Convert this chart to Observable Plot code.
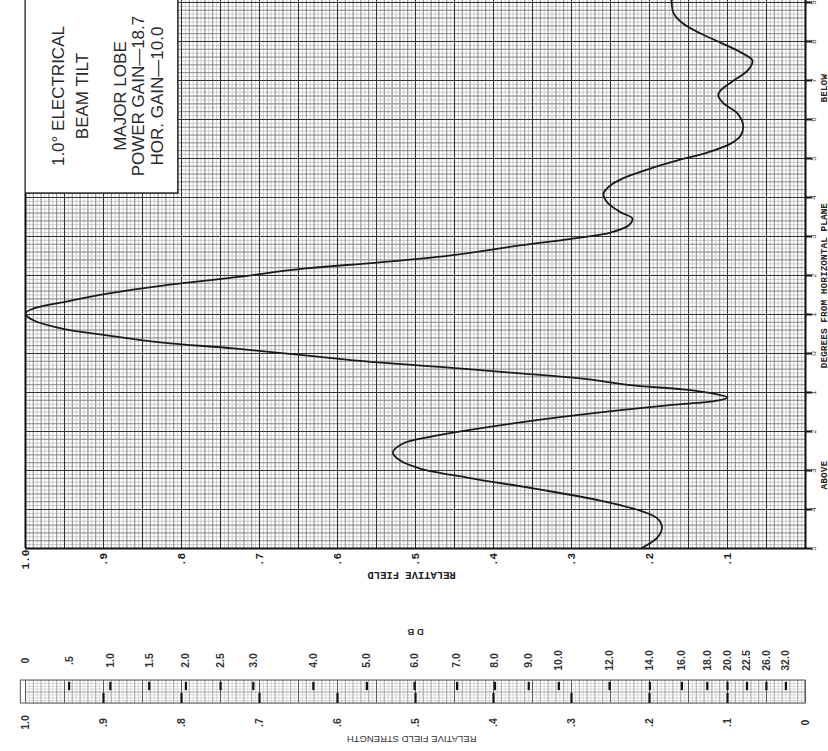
<!DOCTYPE html>
<html>
<head>
<meta charset="utf-8">
<script src="https://cdn.jsdelivr.net/npm/d3@7"></script>
<script src="https://cdn.jsdelivr.net/npm/@observablehq/plot@0.6"></script>
<style>
  html, body { margin: 0; padding: 0; background: #fff; }
  #chart svg { display: block; }
</style>
</head>
<body>
<div id="chart"></div>
<script>
// ---------- DATA ----------
// elevation angle in degrees (positive = below horizontal, negative = above)
const degBelow = [9.2, 8.72, 8.46, 8.21, 7.97, 7.72, 7.51, 7.26, 7.0, 6.74, 6.62, 6.41, 6.15, 5.85, 5.59, 5.38, 5.15, 4.95, 4.74, 4.49, 4.31, 4.10, 3.87, 3.62, 3.46, 3.28, 3.10, 2.97, 2.77, 2.51, 2.33, 2.18, 1.95, 1.74, 1.54, 1.31, 1.15, 1.03, 0.85, 0.64, 0.46, 0.28, 0.13, -0.05, -0.23, -0.36, -0.51, -0.64, -0.82, -0.92, -1.03, -1.13, -1.21, -1.33, -1.51, -1.72, -1.97, -2.15, -2.31, -2.54, -2.74, -2.95, -3.18, -3.46, -3.77, -4.03, -4.23, -4.46, -4.72, -4.97, -5.1];
// relative field at each angle
const relField = [0.172, 0.169, 0.157, 0.135, 0.109, 0.083, 0.068, 0.074, 0.092, 0.109, 0.112, 0.105, 0.087, 0.080, 0.083, 0.096, 0.126, 0.164, 0.199, 0.234, 0.250, 0.259, 0.254, 0.237, 0.222, 0.227, 0.250, 0.289, 0.366, 0.457, 0.549, 0.641, 0.733, 0.824, 0.893, 0.953, 0.990, 1.000, 0.990, 0.953, 0.893, 0.824, 0.733, 0.641, 0.549, 0.457, 0.366, 0.289, 0.221, 0.157, 0.118, 0.100, 0.113, 0.177, 0.263, 0.349, 0.434, 0.485, 0.516, 0.529, 0.520, 0.494, 0.434, 0.349, 0.263, 0.212, 0.190, 0.184, 0.190, 0.208, 0.220];

const fieldTicks = [1.0, 0.9, 0.8, 0.7, 0.6, 0.5, 0.4, 0.3, 0.2, 0.1];
const fieldTickLabels = ["1.0", ".9", ".8", ".7", ".6", ".5", ".4", ".3", ".2", ".1"];
const degTicks = [9, 8, 7, 6, 5, 4, 3, 2, 1, 0, -1, -2, -3, -4, -5];
const degTickLabels = ["9", "8", "7", "6", "5", "4", "3", "2", "1", "0", "1", "2", "3", "4", "5"];

const boxLines = ["1.0° ELECTRICAL", "BEAM TILT", "MAJOR LOBE", "POWER GAIN—18.7", "HOR. GAIN—10.0"];

const dbLabels = ["0", ".5", "1.0", "1.5", "2.0", "2.5", "3.0", "4.0", "5.0", "6.0", "7.0", "8.0", "9.0", "10.0", "12.0", "14.0", "16.0", "18.0", "20.0", "22.5", "26.0", "32.0"];
const dbValues = [0, 0.5, 1, 1.5, 2, 2.5, 3, 4, 5, 6, 7, 8, 9, 10, 12, 14, 16, 18, 20, 22.5, 26, 32];
const strengthTicks = [1.0, 0.9, 0.8, 0.7, 0.6, 0.5, 0.4, 0.3, 0.2, 0.1, 0];
const strengthLabels = ["1.0", ".9", ".8", ".7", ".6", ".5", ".4", ".3", ".2", ".1", "0"];

// ---------- helpers ----------
const pattern = degBelow.map((d, i) => ({deg: d, field: relField[i]}));
const mono = "'Liberation Mono', 'DejaVu Sans Mono', monospace";
const sans = "'Liberation Sans', Arial, sans-serif";
const dbToField = db => Math.pow(10, -db / 20);

const gridFineX = d3.range(0, 1.0001, 0.005);
const gridMedX = d3.range(0, 1.0001, 0.01);
const gridHeavyX = d3.range(0, 1.0001, 0.05);
const gridFineY = d3.range(-5, 9.5, 0.1);
const gridMedY = d3.range(-5, 9.5, 0.2);
const gridHeavyY = d3.range(-5, 10, 1);

// ---------- main chart ----------
const main = Plot.plot({
  width: 828,
  height: 590,
  marginLeft: 25,
  marginRight: 23,
  marginTop: 0,
  marginBottom: 42,
  x: {domain: [1, 0], axis: null},
  y: {domain: [-5, 9.05], axis: null},
  style: {background: "#fff", fontFamily: mono, overflow: "visible"},
  marks: [
    Plot.ruleX(gridFineX, {stroke: "#b8b8b8", strokeWidth: 0.7}),
    Plot.ruleY(gridFineY, {stroke: "#b8b8b8", strokeWidth: 0.7}),
    Plot.ruleX(gridMedX, {stroke: "#7e7e7e", strokeWidth: 0.75}),
    Plot.ruleY(gridMedY, {stroke: "#7e7e7e", strokeWidth: 0.75}),
    Plot.ruleX(gridHeavyX, {stroke: "#333", strokeWidth: 1.1}),
    Plot.ruleY(gridHeavyY, {stroke: "#333", strokeWidth: 1.1}),
    // frame
    Plot.ruleX([1, 0], {stroke: "#111", strokeWidth: 2}),
    Plot.ruleY([-5], {stroke: "#111", strokeWidth: 2}),
    // annotation box
    Plot.rect([0], {x1: () => 1, x2: () => 0.804, y1: () => 4.1, y2: () => 9.6, fill: "#fff", stroke: "#222", strokeWidth: 1.5, clip: true}),
    Plot.text(boxLines, {
      x: (d, i) => [0.958, 0.927, 0.878, 0.855, 0.831][i],
      y: () => 6.6,
      text: d => d,
      rotate: -90,
      fontSize: 17,
      fontFamily: sans,
      fill: "#2a2a2a",
      letterSpacing: "1.4px"
    }),
    // pattern curve
    Plot.line(pattern, {x: "field", y: "deg", curve: "catmull-rom", stroke: "#1a1a1a", strokeWidth: 1.8, clip: true}),
    // right-side degree ticks
    Plot.ruleY(degTicks, {x1: () => 0, x2: () => -0.009, stroke: "#111", strokeWidth: 2}),
    Plot.text(degTicks, {x: () => 0, y: d => d, text: (d, i) => degTickLabels[i], rotate: -90, dx: 8, fontSize: 8, fill: "#444", fontFamily: sans}),
    Plot.text(["DEGREES FROM HORIZONTAL PLANE"], {x: () => 0, y: () => 1.74, text: d => d, rotate: -90, dx: 18, fontSize: 9.5, fontWeight: "bold", fill: "#222"}),
    Plot.text(["BELOW"], {x: () => 0, y: () => 6.8, text: d => d, rotate: -90, dx: 18, fontSize: 9.5, fontWeight: "bold", fill: "#222"}),
    Plot.text(["ABOVE"], {x: () => 0, y: () => -3.12, text: d => d, rotate: -90, dx: 18, fontSize: 9.5, fontWeight: "bold", fill: "#222"}),
    // bottom axis labels
    Plot.text(fieldTicks, {x: d => d, y: () => -5, text: (d, i) => fieldTickLabels[i], rotate: -90, dy: 11, fontSize: 11, fontWeight: "bold", fill: "#222"}),
    Plot.text(["RELATIVE FIELD"], {x: () => 0.505, y: () => -5, text: d => d, rotate: 180, dy: 27, fontSize: 10.5, fontWeight: "bold", fill: "#222"})
  ]
});

// ---------- dB conversion scale ----------
const barFineX = d3.range(0, 1.0001, 0.005);
const barMedX = d3.range(0, 1.0001, 0.01);
const barHeavyX = d3.range(0, 1.0001, 0.05);

const scale = Plot.plot({
  width: 828,
  height: 161,
  marginLeft: 25,
  marginRight: 23,
  marginTop: 90,
  marginBottom: 48,
  x: {domain: [1, 0], axis: null},
  y: {domain: [0, 1], axis: null},
  style: {background: "#fff", fontFamily: sans, overflow: "visible"},
  marks: [
    Plot.ruleX(barFineX, {y1: () => 0, y2: () => 1, stroke: "#c4c4c4", strokeWidth: 0.6}),
    Plot.ruleY(d3.range(0, 1.001, 0.125), {x1: () => 1, x2: () => 0, stroke: "#c4c4c4", strokeWidth: 0.6}),
    Plot.ruleX(barMedX, {y1: () => 0, y2: () => 1, stroke: "#909090", strokeWidth: 0.6}),
    Plot.ruleY([0.5], {x1: () => 1, x2: () => 0, stroke: "#909090", strokeWidth: 0.6}),
    Plot.ruleX(barHeavyX, {y1: () => 0, y2: () => 1, stroke: "#555", strokeWidth: 0.9}),
    Plot.rect([0], {x1: () => 1.006, x2: () => 0, y1: () => 0, y2: () => 1, fill: "none", stroke: "#555", strokeWidth: 1}),
    // dB tick marks (upper half)
    Plot.ruleX(dbValues.slice(1), {x: dbToField, y1: () => 0.56, y2: () => 0.92, stroke: "#111", strokeWidth: 2.2}),
    // relative-field tick marks (lower half)
    Plot.ruleX(strengthTicks.slice(1, 10), {x: d => d, y1: () => 0, y2: () => 0.44, stroke: "#111", strokeWidth: 2.2}),
    Plot.text(dbValues, {x: dbToField, y: () => 1, text: (d, i) => dbLabels[i], rotate: -90, dy: -20, fontSize: 10.5, fontWeight: "bold", fill: "#333"}),
    Plot.text(["D B"], {x: () => 0.5, y: () => 1, text: d => d, rotate: 180, dy: -48, fontSize: 9.5, fontWeight: "bold", fill: "#333"}),
    Plot.text(strengthTicks, {x: d => d, y: () => 0, text: (d, i) => strengthLabels[i], rotate: -90, dy: 19, fontSize: 10.5, fontWeight: "bold", fill: "#333"}),
    Plot.text(["RELATIVE FIELD STRENGTH"], {x: () => 0.505, y: () => 0, text: d => d, rotate: 180, dy: 36, fontSize: 9.5, fill: "#333", letterSpacing: "1.8px"})
  ]
});

const root = document.getElementById("chart");
root.appendChild(main);
root.appendChild(scale);
</script>
</body>
</html>
